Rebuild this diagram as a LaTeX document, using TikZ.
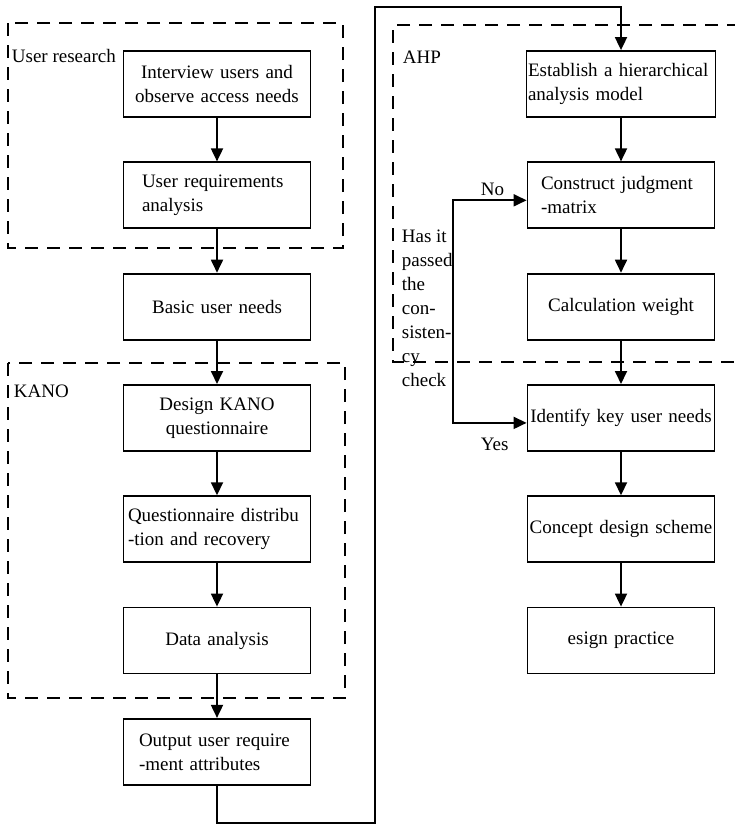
\documentclass[tikz,border=0pt]{standalone}
\usepackage{fontspec}
\setmainfont{Liberation Serif}
\usetikzlibrary{arrows.meta,positioning}

\begin{document}
\begin{tikzpicture}[
        x=1pt, y=-1pt,
        >={Triangle[length=13pt,width=12pt]},
        line width=1.8pt,
        node distance=43.5pt,
        every node/.style={font=\fontsize{19}{24}\selectfont},
        stagebox/.style={draw, minimum width=187pt, minimum height=66pt, text width=184pt, align=center, inner sep=1.5pt},
        leftbox/.style={stagebox, align=left},
        group/.style={dash pattern=on 13pt off 9pt},
        tag/.style={inner sep=0pt, anchor=base west, align=left}
    ]
        \useasboundingbox (0,0) rectangle (735,825);

        % left column
        \node[stagebox] (intv) at (217,84) {Interview users and\\observe access needs};
        \node[leftbox, text width=150pt, below=of intv] (ureq) {User requirements\\analysis};
        \node[stagebox, below=of ureq] (basic) {Basic user needs};
        \node[stagebox, below=of basic] (dkano) {Design KANO\\questionnaire};
        \node[leftbox, text width=178pt, below=of dkano] (dist) {Questionnaire distribu\\-tion and recovery};
        \node[stagebox, below=of dist] (data) {Data analysis};
        \node[leftbox, text width=156pt, below=of data] (out) {Output user require\\-ment attributes};

        % right column
        \node[leftbox, text width=186pt] (est) at (621,84) {Establish a hierarchical\\analysis model};
        \node[leftbox, text width=160pt, below=of est] (con) {Construct judgment\\-matrix};
        \node[stagebox, below=of con] (calc) {Calculation weight};
        \node[stagebox, below=of calc] (idn) {Identify key user needs};
        \node[stagebox, below=of idn] (cds) {Concept design scheme};
        \node[stagebox, below=of cds] (prac) {esign practice};

        % groups
        \draw[group] (8,23) rectangle (343,248);
        \draw[group] (8,363) rectangle (345,698);
        \draw[group] (740,25) -- (393,25) -- (393,362) -- (740,362);
        \node[tag] (lres) at (11,62) {User research};
        \node[tag] (lkano) at (13,397) {KANO};
        \node[tag] (lahp) at (402,63) {AHP};

        \draw[->] (intv) -- (ureq);
        \draw[->] (ureq) -- (basic);
        \draw[->] (basic) -- (dkano);
        \draw[->] (dkano) -- (dist);
        \draw[->] (dist) -- (data);
        \draw[->] (data) -- (out);

        \coordinate (loopbot) at (375,823);
        \coordinate (looptop) at (375,7);
        \draw[->] (out.south) |- (loopbot) -- (looptop) -| (est.north);

        \draw[->] (est) -- (con);
        \draw[->] (con) -- (calc);
        \draw[->] (calc) -- (idn);
        \draw[->] (idn) -- (cds);
        \draw[->] (cds) -- (prac);

        % consistency check
        \coordinate (chk) at (453,300);
        \draw[->] (chk) |- ([yshift=-5pt]con.west);
        \draw[->] (chk) |- ([yshift=-5pt]idn.west);
        \node[tag] (lno) at (480,195) {No};
        \node[tag] (lyes) at (480,450) {Yes};
        \node[tag, anchor=north west] (lchk) at (401,229) {Has it\\passed\\the\\con-\\sisten-\\cy\\check};
    \end{tikzpicture}
\end{document}
